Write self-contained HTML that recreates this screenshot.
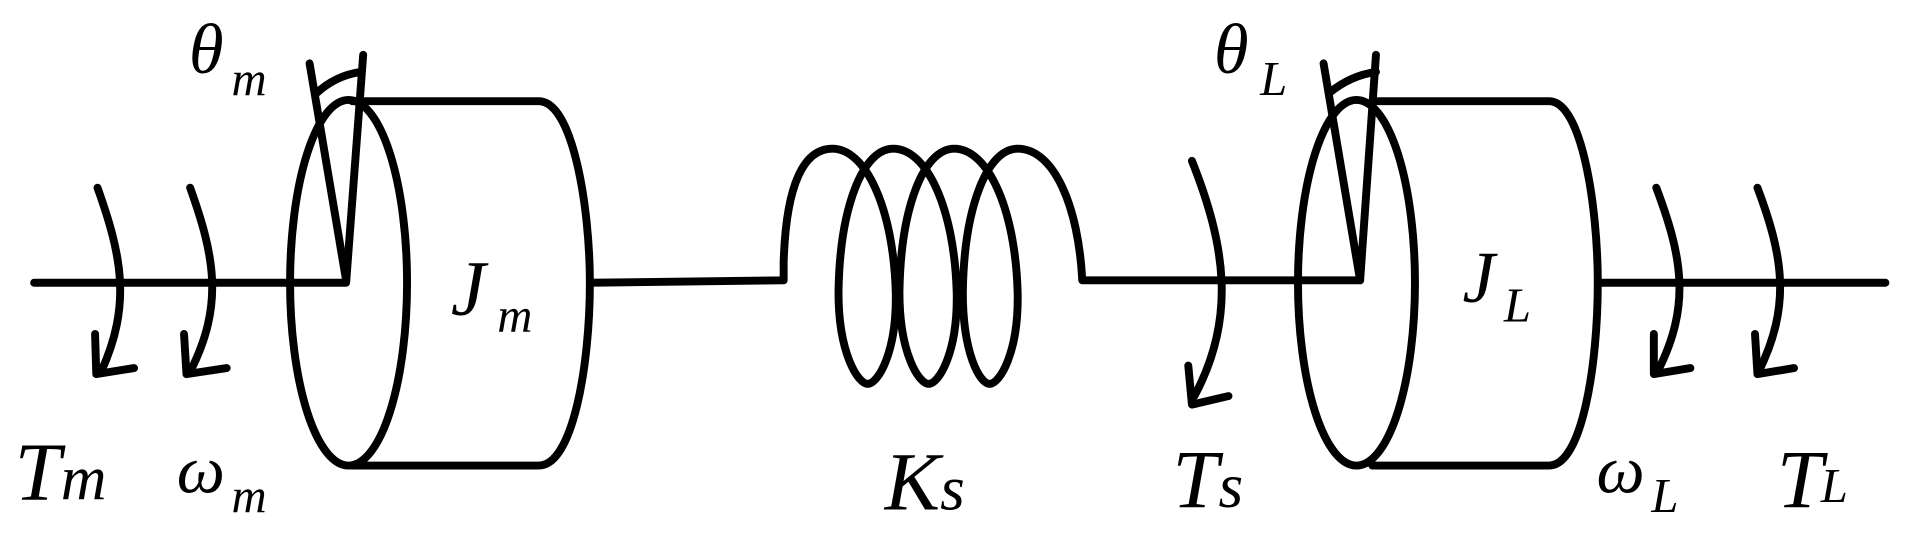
<!DOCTYPE html>
<html><head><meta charset="utf-8"><style>
html,body{margin:0;padding:0;background:#fff;}
svg{display:block;}
</style></head><body>
<svg width="1911" height="535" viewBox="0 0 1568 439" preserveAspectRatio="none" xmlns="http://www.w3.org/2000/svg">
<g fill="none" stroke="#000" stroke-width="6.5" stroke-linejoin="round" stroke-linecap="round">
<path d="M28,232 L284,232 L298,45"/>
<path d="M254,52 L284,230"/>
<path d="M259,77 Q275,62 296,59"/>
<ellipse cx="286" cy="232" rx="48" ry="150"/>
<path d="M289,83 L442,83 C470,83 484,170 484,232 C484,300 470,382 442,382 L289,382"/>
<path d="M484,232 L643,230 L643,215 C645,150 660,122 683,122 C710,122 733,170 735,240 C736,290 720,315 712,315 C704,315 688,290 688,240 C689,170 708,122 733,122 C760,122 783,170 785,240 C786,290 770,315 762,315 C754,315 738,290 738,240 C739,170 758,122 783,122 C810,122 833,170 835,240 C836,290 820,315 812,315 C804,315 790,290 790,240 C791,170 810,122 835,122 C865,122 885,170 888,230 L1116,230 L1129,45"/>
<path d="M1086,52 L1116,230"/>
<path d="M1091,76 Q1108,62 1129,59"/>
<ellipse cx="1113" cy="232" rx="48" ry="150"/>
<path d="M1126,83 L1271,83 C1298,83 1311,170 1311,232 C1311,300 1298,382 1271,382 L1126,382"/>
<path d="M1311,232 L1547,232"/>
<path d="M80,154 C100,210 108,250 83,305"/>
<path d="M78,274 L79,307 L110,302"/>
<path d="M156,154 C176,210 184,250 156,305"/>
<path d="M151,274 L153,307 L186,302"/>
<path d="M978,132 C1005,200 1015,260 980,325"/>
<path d="M975,300 L978,332 L1008,325"/>
<path d="M1359,154 C1380,210 1388,250 1360,305"/>
<path d="M1357,274 L1357,307 L1387,302"/>
<path d="M1442,154 C1463,210 1470,250 1443,305"/>
<path d="M1440,274 L1442,307 L1472,302"/>
</g>
<g font-family="Liberation Serif, serif" font-style="italic" fill="#000">
<text x="155" y="60" font-size="58">θ</text>
<text x="190" y="78" font-size="40">m</text>
<text x="996" y="60" font-size="58">θ</text>
<text x="1034" y="78" font-size="40">L</text>
<text x="370" y="258" font-size="64">J</text>
<text x="408" y="272" font-size="40">m</text>
<text x="1200" y="248" font-size="60">J</text>
<text x="1234" y="264" font-size="40">L</text>
<text x="12" y="410" font-size="68">T<tspan font-size="52">m</tspan></text>
<text x="145" y="404" font-size="56">ω</text>
<text x="190" y="420" font-size="40">m</text>
<text x="726" y="418" font-size="68">K<tspan font-size="52">s</tspan></text>
<text x="962" y="416" font-size="68">T<tspan font-size="52">s</tspan></text>
<text x="1310" y="404" font-size="56">ω</text>
<text x="1355" y="420" font-size="40">L</text>
<text x="1458" y="416" font-size="68">T</text>
<text x="1494" y="412" font-size="40">L</text>
</g>
</svg>
</body></html>
